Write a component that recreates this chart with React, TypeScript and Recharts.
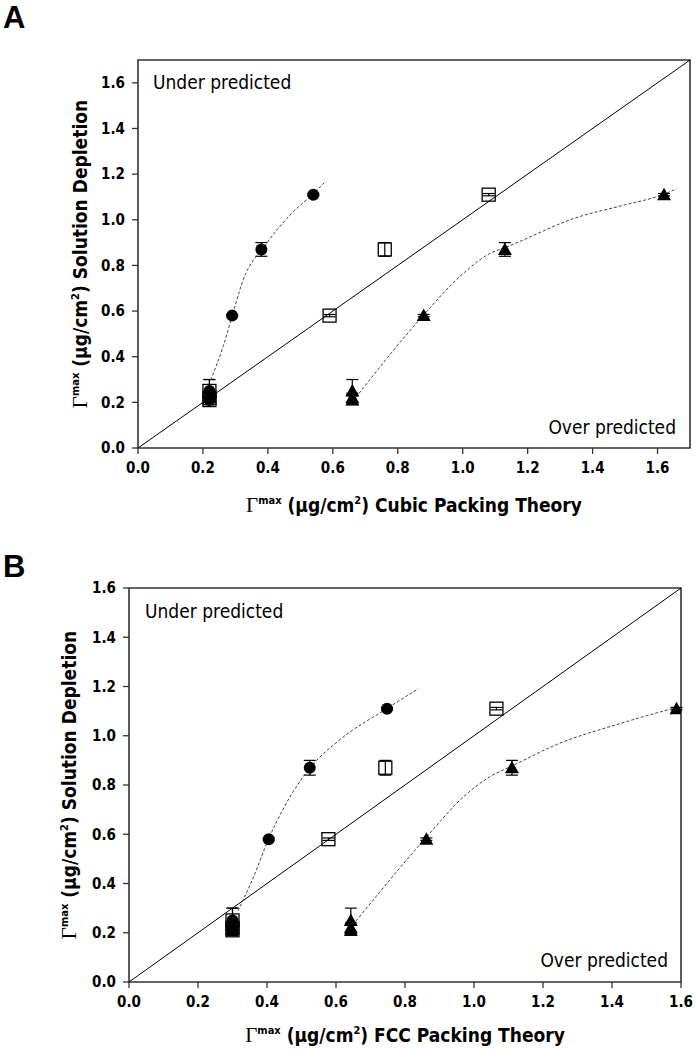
import { ErrorBar, ReferenceArea, ReferenceLine, Scatter, ScatterChart, XAxis, YAxis } from 'recharts'

// measured adsorbed amount (y) shared by all three series, with error
const depletion = [0.21, 0.22, 0.25, 0.58, 0.87, 1.11]
const depletionErr = [0.02, 0.02, 0.05, 0.005, 0.03, 0.005]

// panel A: cubic packing theory
const cubicCircle = [0.22, 0.22, 0.22, 0.29, 0.38, 0.54]
const cubicSquare = [0.22, 0.22, 0.22, 0.59, 0.76, 1.08]
const cubicTriangle = [0.66, 0.66, 0.66, 0.88, 1.13, 1.62]
const cubicCircleFitX = [0.224, 0.262, 0.291, 0.324, 0.39, 0.468, 0.539, 0.575]
const cubicCircleFitY = [0.298, 0.444, 0.583, 0.737, 0.885, 1.02, 1.114, 1.164]
const cubicTriangleFitX = [0.671, 0.881, 1.0, 1.082, 1.134, 1.356, 1.493, 1.623, 1.658]
const cubicTriangleFitY = [0.222, 0.585, 0.763, 0.851, 0.88, 1.012, 1.063, 1.114, 1.136]

// panel B: FCC packing theory
const fccCircle = [0.3, 0.3, 0.3, 0.405, 0.524, 0.748]
const fccSquare = [0.3, 0.3, 0.3, 0.578, 0.743, 1.065]
const fccTriangle = [0.643, 0.643, 0.643, 0.862, 1.11, 1.587]
const fccCircleFitX = [0.316, 0.361, 0.405, 0.452, 0.53, 0.606, 0.748, 0.839]
const fccCircleFitY = [0.289, 0.427, 0.582, 0.716, 0.878, 0.978, 1.111, 1.191]
const fccTriangleFitX = [0.658, 0.862, 0.968, 1.045, 1.11, 1.239, 1.432, 1.587]
const fccTriangleFitY = [0.248, 0.588, 0.75, 0.833, 0.877, 0.964, 1.053, 1.115]

const ticks = [0, 0.2, 0.4, 0.6, 0.8, 1.0, 1.2, 1.4, 1.6]

const NARROW = "'Liberation Sans Narrow', 'Arial Narrow', 'DejaVu Sans Condensed', sans-serif"
const SERIF = "'Liberation Serif', 'DejaVu Serif', serif"

const points = (xs: number[]) => xs.map((x, i) => ({ x, y: depletion[i], e: depletionErr[i] }))
const curve = (xs: number[], ys: number[]) => xs.map((x, i) => ({ x, y: ys[i] }))

const Dot = (p: any) => <circle cx={p.cx} cy={p.cy} r={6} fill="#000" />
const Box = (p: any) => (
  <rect x={p.cx - 6.5} y={p.cy - 6.5} width={13} height={13} fill="none" stroke="#000" strokeWidth={1.3} />
)
const Tri = (p: any) => (
  <path d={`M${p.cx},${p.cy - 7} L${p.cx + 7},${p.cy + 5.5} L${p.cx - 7},${p.cy + 5.5} Z`} fill="#000" />
)
const Nothing = () => <g />

function Title({ theory }: { theory: string }) {
  return (
    <span style={{ fontFamily: NARROW, fontWeight: 700, fontSize: 19, color: '#000', whiteSpace: 'nowrap' }}>
      <span style={{ fontFamily: SERIF, fontWeight: 400, fontSize: 21 }}>Γ</span>
      <sup style={{ fontSize: 11, fontWeight: 700 }}>max</sup> (μg/cm<sup style={{ fontSize: 11 }}>2</sup>) {theory}
    </span>
  )
}

function Panel({
  top, letter, letterTop, max, circle, square, triangle, circleFit, triangleFit, theory,
  margin, yTitle, xTitle, under, over,
}: any) {
  const tick = { fill: '#000', fontSize: 15, fontWeight: 700, fontFamily: NARROW }
  const note = { position: 'absolute' as const, fontFamily: NARROW, fontSize: 19, color: '#000', whiteSpace: 'nowrap' as const }
  const fitLine = { stroke: '#444', strokeWidth: 1, strokeDasharray: '3 2' }
  return (
    <div style={{ position: 'absolute', left: 0, top, width: 698, height: 525 }}>
      <div style={{ position: 'absolute', left: 3, top: letterTop, fontFamily: "'Liberation Sans', Arial, sans-serif", fontWeight: 700, fontSize: 31, lineHeight: '31px' }}>
        {letter}
      </div>
      <ScatterChart width={698} height={525} margin={margin}>
        <XAxis
          type="number" dataKey="x" domain={[0, max]} ticks={ticks} allowDataOverflow
          tickFormatter={(v: number) => v.toFixed(1)} tick={tick} tickSize={6} tickMargin={8}
          axisLine={false} tickLine={{ stroke: '#333', strokeWidth: 1.3 }} height={30}
        />
        <YAxis
          type="number" dataKey="y" domain={[0, max]} ticks={ticks} allowDataOverflow
          tickFormatter={(v: number) => v.toFixed(1)} tick={tick} tickSize={6} tickMargin={7}
          axisLine={false} tickLine={{ stroke: '#333', strokeWidth: 1.3 }} width={70}
        />
        <ReferenceArea x1={0} x2={max} y1={0} y2={max} fill="none" stroke="#333" strokeWidth={1.6} fillOpacity={0} />
        <ReferenceLine segment={[{ x: 0, y: 0 }, { x: max, y: max }]} stroke="#000" strokeWidth={1} />
        <Scatter data={circleFit} shape={Nothing} fill="none" line={fitLine} lineJointType="monotoneX" isAnimationActive={false} />
        <Scatter data={triangleFit} shape={Nothing} fill="none" line={fitLine} lineJointType="monotoneX" isAnimationActive={false} />
        <Scatter data={square} shape={Box} isAnimationActive={false}>
          <ErrorBar dataKey="e" direction="y" width={6} stroke="#000" strokeWidth={1.2} isAnimationActive={false} />
        </Scatter>
        <Scatter data={circle} shape={Dot} isAnimationActive={false}>
          <ErrorBar dataKey="e" direction="y" width={6} stroke="#000" strokeWidth={1.2} isAnimationActive={false} />
        </Scatter>
        <Scatter data={triangle} shape={Tri} isAnimationActive={false}>
          <ErrorBar dataKey="e" direction="y" width={6} stroke="#000" strokeWidth={1.2} isAnimationActive={false} />
        </Scatter>
      </ScatterChart>
      <div style={{ ...note, left: under[0], top: under[1], transform: 'translateY(-50%)' }}>Under predicted</div>
      <div style={{ ...note, right: 698 - over[0], top: over[1], transform: 'translateY(-50%)' }}>Over predicted</div>
      <div style={{ position: 'absolute', left: yTitle[0], top: yTitle[1], transform: 'translate(-50%, -50%) rotate(-90deg)' }}>
        <Title theory="Solution Depletion" />
      </div>
      <div style={{ position: 'absolute', left: xTitle[0], top: xTitle[1], transform: 'translate(-50%, -50%)' }}>
        <Title theory={theory} />
      </div>
    </div>
  )
}

export default function App() {
  return (
    <div style={{ position: 'absolute', left: 0, top: 0, width: 698, height: 1050, background: '#fff' }}>
      <Panel
        top={0} letter="A" letterTop={2} max={1.7} theory="Cubic Packing Theory"
        circle={points(cubicCircle)} square={points(cubicSquare)} triangle={points(cubicTriangle)}
        circleFit={curve(cubicCircleFitX, cubicCircleFitY)} triangleFit={curve(cubicTriangleFitX, cubicTriangleFitY)}
        margin={{ top: 60, right: 8, bottom: 47, left: 68 }}
        yTitle={[80, 254]} xTitle={[414, 505]} under={[153, 82]} over={[676, 427]}
      />
      <Panel
        top={525} letter="B" letterTop={26} max={1.6} theory="FCC Packing Theory"
        circle={points(fccCircle)} square={points(fccSquare)} triangle={points(fccTriangle)}
        circleFit={curve(fccCircleFitX, fccCircleFitY)} triangleFit={curve(fccTriangleFitX, fccTriangleFitY)}
        margin={{ top: 63, right: 17, bottom: 38, left: 59 }}
        yTitle={[69, 260]} xTitle={[405, 510]} under={[145, 86]} over={[668, 435]}
      />
    </div>
  )
}
